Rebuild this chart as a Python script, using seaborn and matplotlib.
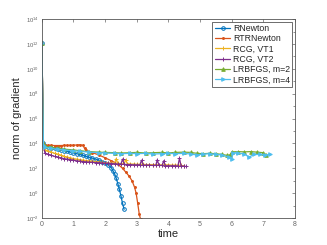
import numpy as np
import pandas as pd
import matplotlib
matplotlib.use('Agg')
import matplotlib.pyplot as plt
import seaborn as sns
from matplotlib.ticker import LogLocator, FixedLocator, NullFormatter

# values (time in s, norm of gradient)
t_rnewton = [0, 0.05, 0.1, 0.2, 0.3, 0.4, 0.5, 0.6, 0.7, 0.8, 0.9, 1.0, 1.1, 1.2, 1.3, 1.4,
             1.5, 1.6, 1.7, 1.8, 1.9, 2.0, 2.1, 2.2, 2.25, 2.3, 2.35, 2.4, 2.45, 2.5, 2.55, 2.6]
g_rnewton = [1.3e12, 1e4, 6e3, 5e3, 4.5e3, 4e3, 3.3e3, 3e3, 2.6e3, 2.3e3, 2e3, 1.7e3, 1.5e3,
             1.3e3, 1.1e3, 9e2, 7.5e2, 6.5e2, 5.5e2, 4.5e2, 3.5e2, 2.8e2, 1.8e2, 1.1e2, 6e1,
             3.5e1, 1.6e1, 6, 2, 0.6, 0.15, 0.05]

t_rtr = [0, 0.05, 0.1, 0.2, 0.3, 0.4, 0.5, 0.6, 0.7, 0.8, 0.9, 1.0, 1.1, 1.2, 1.3, 1.35, 1.4,
         1.6, 1.8, 2.0, 2.2, 2.4, 2.55, 2.65, 2.75, 2.85, 2.93, 2.98, 3.03, 3.08, 3.12]
g_rtr = [1.3e12, 1e4, 7e3, 7e3, 7e3, 6.8e3, 6.8e3, 6.8e3, 7e3, 7e3, 7e3, 7.2e3, 7.5e3, 7.8e3,
         7e3, 4e3, 2.8e3, 1.8e3, 1.2e3, 7e2, 4e2, 2.2e2, 1e2, 5e1, 2.5e1, 1e1, 3, 1, 0.15,
         0.02, 0.008]

t_vt1 = [0, 0.05, 0.1, 0.2, 0.3, 0.4, 0.5, 0.6, 0.7, 0.8, 0.9, 1.0, 1.1, 1.2, 1.3, 1.4, 1.5,
         1.6, 1.7, 1.8, 1.9, 2.0, 2.1, 2.2, 2.3, 2.35, 2.4, 2.5, 2.6, 2.65, 2.7, 2.8, 2.9, 3.0,
         3.1, 3.2, 3.3, 3.4, 3.5, 3.6, 3.7, 3.8, 3.9, 4.0, 4.1, 4.2, 4.3, 4.4, 4.5]
g_vt1 = [1.3e12, 8e3, 3e3, 2.5e3, 2e3, 1.6e3, 1.3e3, 1.1e3, 9e2, 8e2, 7e2, 6e2, 5.5e2, 5e2,
         4.5e2, 4.2e2, 4e2, 3.7e2, 3.5e2, 3.3e2, 3e2, 2.8e2, 2.7e2, 2.6e2, 2.5e2, 6e2, 2.5e2,
         2.4e2, 2.3e2, 5e2, 2.3e2, 2.2e2, 2.2e2, 2.1e2, 2.1e2, 2.1e2, 2e2, 2e2, 2e2, 2e2, 1.9e2,
         1.9e2, 1.9e2, 1.9e2, 1.8e2, 1.8e2, 1.8e2, 1.7e2, 1.5e2]

t_vt2 = [0, 0.05, 0.1, 0.2, 0.3, 0.4, 0.5, 0.6, 0.7, 0.8, 0.9, 1.0, 1.1, 1.2, 1.3, 1.4, 1.5,
         1.6, 1.7, 1.8, 1.9, 2.0, 2.1, 2.2, 2.3, 2.4, 2.5, 2.55, 2.6, 2.7, 2.8, 2.9, 3.0, 3.1,
         3.15, 3.2, 3.3, 3.4, 3.5, 3.6, 3.65, 3.7, 3.8, 3.85, 3.9, 4.0, 4.1, 4.2, 4.3, 4.35,
         4.4, 4.5, 4.55]
g_vt2 = [1.3e12, 6e3, 1.6e3, 1.3e3, 1.1e3, 9e2, 8e2, 7e2, 6e2, 5.5e2, 5e2, 4.5e2, 4e2, 3.7e2,
         3.5e2, 3.3e2, 3.1e2, 3e2, 2.9e2, 2.8e2, 2.7e2, 2.6e2, 2.5e2, 2.4e2, 2.3e2, 2.2e2,
         2.2e2, 5.5e2, 2.1e2, 2e2, 2e2, 1.9e2, 1.9e2, 1.9e2, 4.5e2, 1.8e2, 1.8e2, 1.8e2,
         1.7e2, 1.7e2, 5e2, 1.7e2, 1.7e2, 4e2, 1.6e2, 1.6e2, 1.6e2, 1.6e2, 1.5e2, 6.5e2,
         1.5e2, 1.5e2, 1.4e2]

t_lb2 = [0, 0.05, 0.1, 0.3, 0.5, 0.7, 1.0, 1.2, 1.5, 1.8, 2.0, 2.3, 2.5, 2.8, 3.0, 3.3, 3.5,
         3.8, 4.0, 4.2, 4.5, 4.7, 4.9, 5.1, 5.3, 5.5, 5.7, 5.85, 5.95, 6.0, 6.2, 6.4, 6.6, 6.8,
         7.0, 7.1]
g_lb2 = [1.3e12, 1e4, 6e3, 5e3, 4e3, 3.5e3, 3e3, 2.6e3, 2.2e3, 2e3, 1.9e3, 1.8e3, 1.7e3,
         1.8e3, 1.9e3, 1.7e3, 1.8e3, 1.9e3, 1.7e3, 1.9e3, 2e3, 1.9e3, 1.6e3, 1.5e3, 1.6e3,
         1.5e3, 1.3e3, 1.1e3, 1.2e3, 2.1e3, 2.2e3, 2.1e3, 2.2e3, 2e3, 1.8e3, 1.2e3]

t_lb4 = [0, 0.05, 0.1, 0.3, 0.5, 0.7, 1.0, 1.2, 1.5, 1.8, 2.0, 2.3, 2.5, 2.8, 3.0, 3.3, 3.5,
         3.8, 4.0, 4.2, 4.5, 4.7, 4.9, 5.1, 5.3, 5.5, 5.7, 5.9, 6.0, 6.05, 6.2, 6.4, 6.55, 6.7,
         6.9, 7.05, 7.2]
g_lb4 = [1.3e12, 8e3, 5e3, 4e3, 3.4e3, 3e3, 2.6e3, 2.3e3, 2e3, 1.8e3, 1.7e3, 1.6e3, 1.5e3,
         1.6e3, 1.5e3, 1.6e3, 1.4e3, 1.5e3, 1.6e3, 1.5e3, 1.6e3, 1.4e3, 1.2e3, 1.4e3, 1.5e3,
         1.3e3, 1.2e3, 8e2, 6e2, 1.8e3, 1.7e3, 1.4e3, 8e2, 1.3e3, 1.3e3, 1.2e3, 1.3e3]

series = [
    ('RNewton', t_rnewton, g_rnewton, '#0072BD', 'o', 2.6),
    ('RTRNewton', t_rtr, g_rtr, '#D95319', '.', 2.8),
    ('RCG, VT1', t_vt1, g_vt1, '#EDB120', '+', 3.5),
    ('RCG, VT2', t_vt2, g_vt2, '#7E2F8E', '+', 3.5),
    ('LRBFGS, m=2', t_lb2, g_lb2, '#77AC30', '^', 2.6),
    ('LRBFGS, m=4', t_lb4, g_lb4, '#4DBEEE', '>', 2.6),
]

sns.set_style('white')
plt.rcParams['font.family'] = ['Liberation Sans', 'DejaVu Sans']

fig = plt.figure(figsize=(3.27, 2.45), dpi=100)
ax = fig.add_axes([0.128, 0.110, 0.774, 0.812])

for name, t, g, c, m, ms in series:
    sns.lineplot(x=t, y=g, ax=ax, color=c, marker=m, markersize=ms, linewidth=0.9,
                 markeredgecolor=c, markerfacecolor='none' if m == 'o' else c,
                 markeredgewidth=0.7, estimator=None, sort=False, label=name)

ax.set_yscale('log')
ax.set_xlim(0, 8)
ax.set_ylim(1e-2, 1e14)
ax.set_xticks(range(0, 9))
ax.yaxis.set_major_locator(FixedLocator([10.0 ** k for k in range(-2, 15, 2)]))
ax.yaxis.set_minor_locator(LogLocator(base=10, subs=(1.0,), numticks=40))
ax.yaxis.set_minor_formatter(NullFormatter())
ax.tick_params(which='both', direction='in', top=True, right=True, colors='#666666',
               labelsize=4.2, width=0.5, length=2.5, pad=2)
ax.tick_params(which='minor', length=1.2)
ax.tick_params(axis='x', labelsize=5)
for s in ax.spines.values():
    s.set_color('#555555')
    s.set_linewidth(0.6)

ax.set_xlabel('time', fontsize=8, labelpad=1)
ax.set_ylabel('norm of gradient', fontsize=8, labelpad=3)

leg = ax.legend(loc='upper right', fontsize=6.3, frameon=True, fancybox=False,
                edgecolor='#333333', framealpha=1, borderpad=0.25, labelspacing=0.15,
                handlelength=1.8, handletextpad=0.3, borderaxespad=0.3)
leg.get_frame().set_linewidth(0.5)

fig.savefig('out.png', dpi=100)
